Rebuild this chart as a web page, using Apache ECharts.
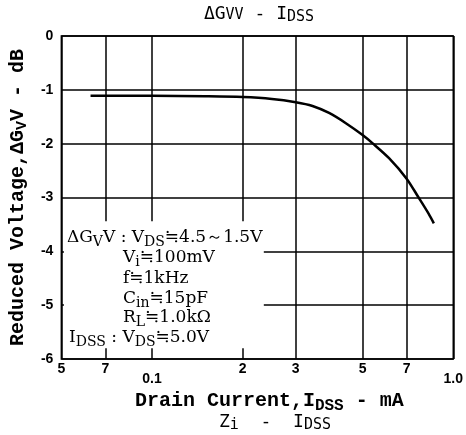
<!DOCTYPE html>
<html>
<head>
<meta charset="utf-8">
<script src="https://cdn.jsdelivr.net/npm/echarts@6/dist/echarts.min.js"></script>
<style>
  html, body { margin: 0; padding: 0; background: #fff; }
  #chart { width: 466px; height: 435px; }
</style>
</head>
<body>
<div id="chart"></div>
<script>
// Curve: drain current (mA) vs reduced voltage (dB)
var currents = [0.0625, 0.1, 0.15, 0.2, 0.25, 0.3, 0.341, 0.387, 0.44, 0.5, 0.539, 0.612, 0.7, 0.767, 0.828, 0.862];
var reducedDb = [-1.11, -1.11, -1.12, -1.135, -1.17, -1.23, -1.30, -1.43, -1.62, -1.84, -1.99, -2.27, -2.65, -3.0, -3.30, -3.48];

// x axis tick positions and the labels printed under them
var xTickValues = [0.05, 0.07, 0.1, 0.2, 0.3, 0.5, 0.7, 1.0];
var xTickLabels = ['5', '7', '0.1', '2', '3', '5', '7', '1.0'];
var decadeLabels = ['0.1', '1.0'];

// white box behind the conditions text (data coords)
var noteBoxFrom = [0.051, -3.44];
var noteBoxTo = [0.235, -5.8];

var myChart = echarts.init(document.getElementById('chart'));

var pts = [];
for (var i = 0; i < currents.length; i++) {
    pts.push([currents[i], reducedDb[i]]);
}

// fonts
var serif = '"DejaVu Serif", serif';
var mono = '"Liberation Mono", monospace';
var smono = '"DejaVu Sans Mono", monospace';

// rich styles used for the notes
var noteRich = {
    n: { fontFamily: serif, fontSize: 17, color: '#000' },
    s: { fontFamily: serif, fontSize: 14, color: '#000', padding: [9, 0, 0, 0] }
};
var titleRich = {
    n: { fontFamily: smono, fontSize: 18, color: '#000' },
    v: { fontFamily: smono, fontSize: 15, color: '#000', padding: [3, 0, 0, 0] },
    s: { fontFamily: smono, fontSize: 15, color: '#000', padding: [7, 0, 0, 0] }
};

function note(x, y, text) {
    return {
        type: 'text', x: x, y: y, z: 100,
        style: { text: text, rich: noteRich, verticalAlign: 'middle', fill: '#000' }
    };
}

var option = {
    animation: false,
    backgroundColor: '#fff',
    grid: {
        left: 58, right: 4, top: 36, bottom: 76,
        show: true, borderColor: '#000', borderWidth: 1.5, backgroundColor: 'transparent'
    },
    xAxis: {
        type: 'log',
        logBase: 10,
        min: 0.05,
        max: 1.0,
        axisLine: { show: false },
        axisTick: { show: false, customValues: xTickValues },
        splitLine: { show: true, lineStyle: { color: '#000', width: 1.5 } },
        minorTick: { show: false },
        axisLabel: {
            customValues: xTickValues,
            margin: 3,
            formatter: function (v) {
                var idx = -1;
                for (var k = 0; k < xTickValues.length; k++) {
                    if (Math.abs(xTickValues[k] - v) < 1e-6) idx = k;
                }
                if (idx < 0) return '';
                var t = xTickLabels[idx];
                return decadeLabels.indexOf(t) >= 0 ? '{d|' + t + '}' : '{n|' + t + '}';
            },
            rich: {
                n: { fontFamily: '"Liberation Sans", sans-serif', fontWeight: 'bold', fontSize: 14, color: '#000' },
                d: { fontFamily: '"Liberation Sans", sans-serif', fontWeight: 'bold', fontSize: 14, color: '#000', padding: [10, 0, 0, 0] }
            }
        },
        name: '{b|Drain Current,I}{s|DSS}{b| - mA}',
        nameLocation: 'middle',
        nameGap: 26,
        nameTextStyle: {
            padding: [0, 0, 0, 24],
            rich: {
                b: { fontFamily: mono, fontWeight: 'bold', fontSize: 20, color: '#000' },
                s: { fontFamily: mono, fontWeight: 'bold', fontSize: 16, color: '#000', padding: [10, 0, 0, 0] }
            }
        }
    },
    yAxis: {
        type: 'value',
        min: -6,
        max: 0,
        interval: 1,
        axisLine: { show: false },
        axisTick: { show: false },
        splitLine: { show: true, lineStyle: { color: '#000', width: 1.5 } },
        axisLabel: {
            margin: 8,
            fontFamily: '"Liberation Sans", sans-serif',
            fontWeight: 'bold',
            fontSize: 14,
            color: '#000'
        },
        name: '{b|Reduced Voltage,ΔG}{s|V}{b|V - dB}',
        nameLocation: 'middle',
        nameGap: 30,
        nameTextStyle: {
            rich: {
                b: { fontFamily: mono, fontWeight: 'bold', fontSize: 20, color: '#000' },
                s: { fontFamily: mono, fontWeight: 'bold', fontSize: 15, color: '#000', padding: [9, 0, 0, 0] }
            }
        }
    },
    graphic: [
        {
            type: 'text', x: 259, y: 14, z: 100,
            style: { text: '{n|ΔG}{v|VV}{n| - I}{s|DSS}', rich: titleRich, align: 'center', verticalAlign: 'middle' }
        },
        {
            type: 'text', x: 275, y: 422, z: 100,
            style: { text: '{n|Z}{s|i}{n|  -  I}{s|DSS}', rich: titleRich, align: 'center', verticalAlign: 'middle' }
        },
        note(67, 238, '{n|ΔG}{s|V}{n|V : V}{s|DS}{n|≒4.5～1.5V}'),
        note(123, 258, '{n|V}{s|i}{n|≒100mV}'),
        note(123, 279, '{n|f≒1kHz}'),
        note(123, 299, '{n|C}{s|in}{n|≒15pF}'),
        note(123, 318, '{n|R}{s|L}{n|≒1.0kΩ}'),
        note(69, 338, '{n|I}{s|DSS}{n| : V}{s|DS}{n|≒5.0V}')
    ],
    series: [
        {
            type: 'line',
            data: pts,
            smooth: 0.3,
            showSymbol: false,
            lineStyle: { color: '#000', width: 2.5 },
            markArea: {
                silent: true,
                itemStyle: { color: '#fff', opacity: 1 },
                data: [[{ coord: noteBoxFrom }, { coord: noteBoxTo }]]
            }
        }
    ]
};

myChart.setOption(option);

window.onresize = function () {
    myChart.resize();
};
</script>
</body>
</html>
